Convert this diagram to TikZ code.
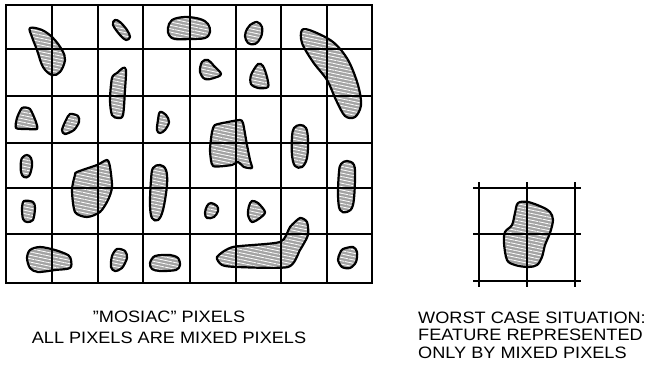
\documentclass[tikz,border=0pt]{standalone}
\usepackage{fontspec}
\newfontfamily\capfont[FakeStretch=1.1]{Liberation Sans}
\usetikzlibrary{patterns.meta}

\begin{document}
\begin{tikzpicture}[
  x=1pt, y=-1pt,
  cell/.style={draw=black, line width=1.4pt},
  frame/.style={draw=black, line width=1.8pt},
  blob/.style={draw=black, line width=2.2pt, line join=round,
    preaction={fill=gray!72},
    pattern={Lines[angle=-12, distance=3.3pt, line width=0.8pt]},
    pattern color=white},
  leftcap/.style={font=\capfont\fontsize{16.5}{21}\selectfont, inner sep=0pt, align=center},
  rightcap/.style={font=\capfont\fontsize{16.5}{17.5}\selectfont, inner sep=0pt, align=left},
]
% Coordinate system: 1 unit = 1 pixel of the 653 x 367 page, y grows downward.
% Mosaic: 8 columns x 6 rows, (6,5) to (372,283)
\useasboundingbox (0,0) rectangle (653,367);

% ─── Features of the mosaic ───────────────────────────────────────────────
% row 1
\draw[blob] plot[smooth cycle, tension=0.6] coordinates {(30,28) (42,30) (53,38) (62,50) (65,60) (60,72) (52,75) (43,67) (37,50) (32,37)};
\draw[blob] plot[smooth cycle, tension=0.6] coordinates {(115,20) (120,22) (127,30) (130,37) (126,40) (120,35) (113,25)};
\draw[blob] plot[smooth cycle, tension=0.6] coordinates {(168,28) (172,20) (185,17) (200,19) (208,24) (210,32) (205,38) (190,39) (175,39) (169,35)};
\draw[blob] plot[smooth cycle, tension=0.6] coordinates {(250,25) (257,22) (262,27) (261,37) (255,44) (248,43) (245,36) (247,29)};
\draw[blob] plot[smooth cycle, tension=0.55] coordinates {(302,30) (312,31) (333,42) (348,60) (358,85) (361,105) (355,117) (345,116) (336,100) (327,80) (313,62) (302,43)};
% row 2
\draw[blob] plot[smooth cycle, tension=0.5] coordinates {(123,68) (126,70) (125,90) (123,115) (118,118) (112,115) (110,100) (112,78) (117,73)};
\draw[blob] plot[smooth cycle, tension=0.6] coordinates {(202,62) (208,60) (214,66) (221,74) (214,78) (205,79) (200,72)};
\draw[blob] plot[smooth cycle, tension=0.5] coordinates {(258,64) (263,66) (267,77) (268,87) (258,88) (251,84) (251,75)};
% row 3
\draw[blob] plot[smooth cycle, tension=0.4] coordinates {(22,108) (30,109) (36,122) (37,129) (27,129) (16,128) (17,118)};
\draw[blob] plot[smooth cycle, tension=0.5] coordinates {(70,114) (78,116) (79,122) (74,130) (65,134) (62,130) (66,120)};
\draw[blob] plot[smooth cycle, tension=0.6] coordinates {(160,112) (166,115) (169,122) (165,130) (160,133) (157,130) (158,120)};
\draw[blob] plot[smooth cycle, tension=0.35] coordinates {(215,125) (228,122) (240,120) (243,123) (247,145) (250,160) (252,168) (244,167) (238,162) (232,165) (213,166) (210,150) (212,132)};
\draw[blob] plot[smooth cycle, tension=0.6] coordinates {(300,125) (306,128) (308,140) (307,158) (302,167) (295,166) (292,155) (292,137) (294,128)};
% row 4
\draw[blob] plot[smooth cycle, tension=0.6] coordinates {(27,155) (31,158) (32,166) (29,176) (24,177) (21,172) (21,161) (23,157)};
\draw[blob] plot[smooth cycle, tension=0.45] coordinates {(77,172) (97,165) (107,160) (110,167) (112,187) (108,200) (100,212) (87,217) (75,212) (72,190) (75,175)};
\draw[blob] plot[smooth cycle, tension=0.6] coordinates {(160,165) (166,170) (167,185) (163,210) (158,220) (152,218) (150,205) (151,180) (153,168)};
\draw[blob] plot[smooth cycle, tension=0.6] coordinates {(347,161) (354,165) (355,180) (353,205) (347,212) (340,210) (338,195) (339,172) (341,164)};
% row 5
\draw[blob] plot[smooth cycle, tension=0.5] coordinates {(24,201) (33,202) (35,208) (33,220) (27,222) (23,219) (22,208)};
\draw[blob] plot[smooth cycle, tension=0.6] coordinates {(211,203) (217,206) (218,211) (214,217) (207,218) (205,213) (207,206)};
\draw[blob] plot[smooth cycle, tension=0.5] coordinates {(252,201) (258,203) (265,212) (260,218) (252,222) (248,215) (249,206)};
% row 6
\draw[blob] plot[smooth cycle, tension=0.5] coordinates {(30,250) (40,247) (55,250) (68,255) (71,260) (70,268) (55,270) (38,272) (30,268) (27,258)};
\draw[blob] plot[smooth cycle, tension=0.5] coordinates {(117,249) (125,251) (127,258) (122,268) (115,271) (111,267) (112,256)};
\draw[blob] plot[smooth cycle, tension=0.5] coordinates {(155,256) (170,255) (178,258) (180,265) (176,270) (160,271) (152,269) (150,263)};
\draw[blob] plot[smooth cycle, tension=0.4] coordinates {(217,257) (233,247) (280,242) (290,227) (300,218) (307,222) (308,235) (300,250) (288,267) (237,267) (222,265)};
\draw[blob] plot[smooth cycle, tension=0.5] coordinates {(343,249) (353,247) (357,252) (356,262) (350,268) (342,267) (338,260) (340,253)};

% ─── Pixel grid of the mosaic ─────────────────────────────────────────────
\draw[cell] (52,5) -- (52,283);
\draw[cell] (98,5) -- (98,283);
\draw[cell] (143,5) -- (143,283);
\draw[cell] (190,5) -- (190,283);
\draw[cell] (236,5) -- (236,283);
\draw[cell] (281,5) -- (281,283);
\draw[cell] (327,5) -- (327,283);
\draw[cell] (6,49) -- (372,49);
\draw[cell] (6,96) -- (372,96);
\draw[cell] (6,143) -- (372,143);
\draw[cell] (6,188) -- (372,188);
\draw[cell] (6,234) -- (372,234);
\draw[frame] (6,5) rectangle (372,283);

% ─── Worst case: one feature on a 2 x 2 block ─────────────────────────────
\draw[blob] plot[smooth cycle, tension=0.55] coordinates {(518,203) (528,202) (542,207) (550,212) (553,220) (550,233) (545,245) (542,257) (537,265) (528,267) (515,265) (507,260) (504,243) (505,232) (512,225) (515,213)};
\draw[cell] (473,188) -- (581,188);
\draw[cell] (473,234) -- (581,234);
\draw[cell] (473,281) -- (581,281);
\draw[cell] (479,182) -- (479,287);
\draw[cell] (527,182) -- (527,287);
\draw[cell] (575,182) -- (575,287);

% ─── Captions ─────────────────────────────────────────────────────────────
% base anchor of a multi-line node sits on its last line
\node[leftcap, anchor=base] (mosaiccap) at (169,343)
  {”MOSIAC” PIXELS\\ALL PIXELS ARE MIXED PIXELS};
\node[rightcap, anchor=base west] (worstcap) at (418,358)
  {WORST CASE SITUATION:\\FEATURE REPRESENTED\\ONLY BY MIXED PIXELS};

\end{tikzpicture}
\end{document}
